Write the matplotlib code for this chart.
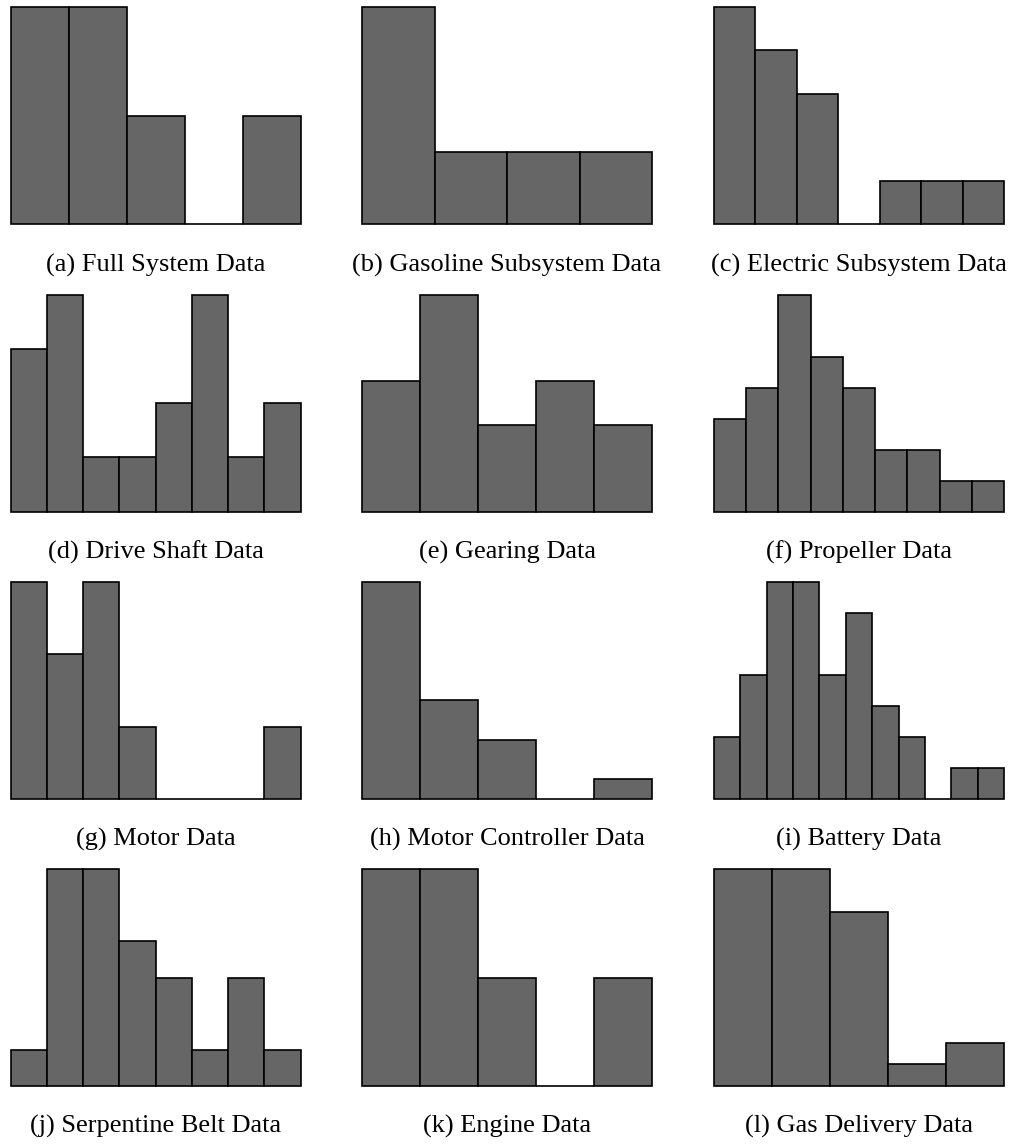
import numpy as np
import matplotlib.pyplot as plt

plt.rcParams['font.family'] = ['Liberation Serif', 'DejaVu Serif']

# bin counts for each subsystem histogram
full_system = [2, 2, 1, 0, 1]
gasoline = [3, 1, 1, 1]
electric = [5, 4, 3, 0, 1, 1, 1]
drive_shaft = [3, 4, 1, 1, 2, 4, 1, 2]
gearing = [3, 5, 2, 3, 2]
propeller = [3, 4, 7, 5, 4, 2, 2, 1, 1]
motor = [3, 2, 3, 1, 0, 0, 0, 1]
motor_controller = [11, 5, 3, 0, 1]
battery = [2, 4, 7, 7, 4, 6, 3, 2, 0, 1, 1]
serpentine_belt = [1, 6, 6, 4, 3, 1, 3, 1]
engine = [2, 2, 1, 0, 1]
gas_delivery = [10, 10, 8, 1, 2]

panels = [
    (full_system, "(a) Full System Data"),
    (gasoline, "(b) Gasoline Subsystem Data"),
    (electric, "(c) Electric Subsystem Data"),
    (drive_shaft, "(d) Drive Shaft Data"),
    (gearing, "(e) Gearing Data"),
    (propeller, "(f) Propeller Data"),
    (motor, "(g) Motor Data"),
    (motor_controller, "(h) Motor Controller Data"),
    (battery, "(i) Battery Data"),
    (serpentine_belt, "(j) Serpentine Belt Data"),
    (engine, "(k) Engine Data"),
    (gas_delivery, "(l) Gas Delivery Data"),
]

W, H = 1013, 1146
fig = plt.figure(figsize=(W / 100, H / 100), dpi=100)

# panel placement in pixels
col_left = [10.5, 362, 714]
row_top = [7, 294.5, 582, 869]
cap_y = [265, 552, 839, 1126]
pw, ph = 290, 217

for i, (counts, caption) in enumerate(panels):
    r, c = divmod(i, 3)
    ax = fig.add_axes([col_left[c] / W, 1 - (row_top[r] + ph) / H, pw / W, ph / H])
    n = len(counts)
    bars = ax.bar(np.arange(n), counts, width=1, align='edge', color='#666666',
                  edgecolor='black', linewidth=1.2)
    for b in bars:
        b.set_clip_on(False)
    ax.set_xlim(0, n)
    ax.set_ylim(0, max(counts))
    ax.axis('off')
    fig.text((col_left[c] + pw / 2) / W, 1 - cap_y[r] / H, caption,
             ha='center', va='center', fontsize=19)

fig.savefig("out.png", dpi=100)
